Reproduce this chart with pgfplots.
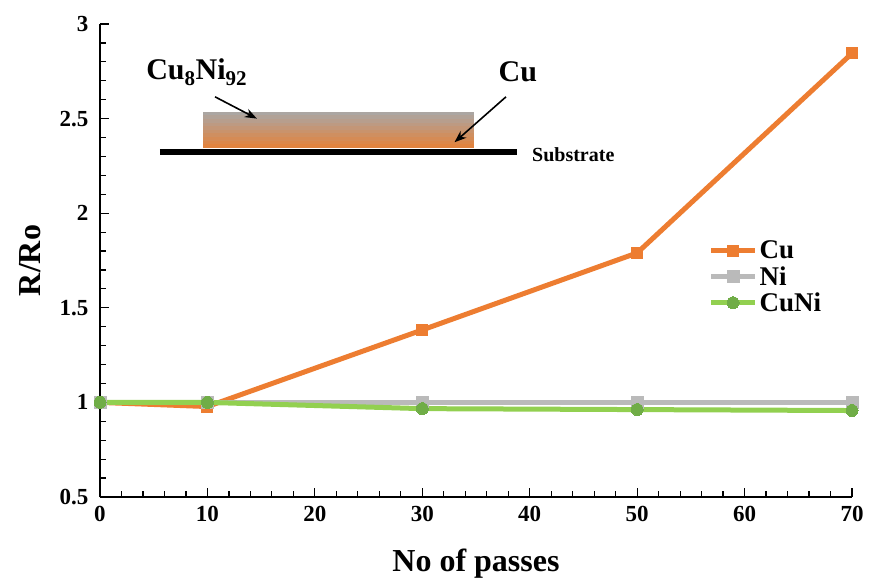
\documentclass[border=0pt]{standalone}
\usepackage{pgfplots}
\pgfplotsset{compat=1.18}
\usepackage{fontspec}
\setmainfont{Liberation Serif}
\usetikzlibrary{arrows.meta}
\definecolor{cuor}{HTML}{ED7D31}
\definecolor{nigr}{HTML}{BABABA}
\definecolor{cnline}{HTML}{92D050}
\definecolor{cnmark}{HTML}{70AD47}
\definecolor{topgray}{HTML}{A8A8A8}
\definecolor{botor}{HTML}{E4813A}
\begin{document}
\begin{tikzpicture}
\begin{axis}[
  at={(0,0)}, anchor=south west,
  width=752pt, height=473pt, scale only axis,
  xmin=0, xmax=70, ymin=0.5, ymax=3,
  axis x line*=bottom, axis y line*=left,
  axis line style={-, line width=1.3pt, black},
  xtick={0,10,...,70}, ytick={0.5,1,...,3},
  minor x tick num=4, minor y tick num=4,
  xtick align=inside, ytick align=inside,
  major tick length=9pt, minor tick length=6pt,
  xtick style={color=black, line width=1.2pt},
  ytick style={color=black, line width=1.2pt},
  /pgf/number format/assume math mode=true,
  ticklabel style={font=\bfseries\fontsize{23}{23}\selectfont},
  xticklabel style={yshift=-6pt},
  yticklabel style={xshift=-8pt},
  xlabel={No of passes}, ylabel={R/Ro},
  label style={font=\bfseries\fontsize{32}{32}\selectfont},
  xlabel style={yshift=-20pt},
  ylabel style={yshift=12pt},
  legend style={at={(0.805,0.55)}, anchor=north west, draw=none, fill=none,
    font=\bfseries\fontsize{27}{27}\selectfont, row sep=2pt,
    /tikz/every even column/.append style={column sep=2pt}},
  legend cell align=left,
  legend image code/.code={\draw[mark repeat=2,mark phase=2,#1] plot coordinates {(0pt,0pt)(22pt,0pt)(44pt,0pt)};},
  clip=false,
]
\addplot[cuor, line width=5pt, mark=square*, mark size=5.5pt, mark options={line width=0pt}]
  coordinates {(0,1.0) (10,0.978) (30,1.383) (50,1.79) (70,2.845)};
\addlegendentry{Cu}
\addplot[nigr, line width=5pt, mark=square*, mark size=6pt, mark options={line width=0pt}]
  coordinates {(0,1.0) (10,1.0) (30,1.0) (50,1.0) (70,1.0)};
\addlegendentry{Ni}
\addplot[cnline, line width=5pt, mark=*, mark size=6pt, mark options={fill=cnmark, draw=cnmark, line width=0pt}]
  coordinates {(0,1.0) (10,1.0) (30,0.967) (50,0.962) (70,0.957)};
\addlegendentry{CuNi}
% inset schematic: graded layer drawn as thin strips
\fill[botor!5!topgray]  (axis cs:9.59,2.536) rectangle (axis cs:34.81,2.516);
\fill[botor!15!topgray] (axis cs:9.59,2.517) rectangle (axis cs:34.81,2.497);
\fill[botor!25!topgray] (axis cs:9.59,2.498) rectangle (axis cs:34.81,2.478);
\fill[botor!35!topgray] (axis cs:9.59,2.479) rectangle (axis cs:34.81,2.459);
\fill[botor!45!topgray] (axis cs:9.59,2.460) rectangle (axis cs:34.81,2.440);
\fill[botor!55!topgray] (axis cs:9.59,2.441) rectangle (axis cs:34.81,2.421);
\fill[botor!65!topgray] (axis cs:9.59,2.422) rectangle (axis cs:34.81,2.402);
\fill[botor!75!topgray] (axis cs:9.59,2.403) rectangle (axis cs:34.81,2.383);
\fill[botor!85!topgray] (axis cs:9.59,2.384) rectangle (axis cs:34.81,2.364);
\fill[botor!95!topgray] (axis cs:9.59,2.365) rectangle (axis cs:34.81,2.345);
\draw[line width=6pt] (axis cs:5.585,2.324) -- (axis cs:38.82,2.324);
\node[font=\bfseries\fontsize{30}{30}\selectfont] at (axis cs:9.0,2.745) {Cu\textsubscript{8}Ni\textsubscript{92}};
\node[font=\bfseries\fontsize{30}{30}\selectfont] at (axis cs:38.9,2.745) {Cu};
\node[font=\bfseries\fontsize{20}{20}\selectfont, anchor=west] at (axis cs:39.9,2.31) {Substrate};
\draw[line width=1.6pt, -{Stealth[length=12pt,width=9pt]}] (axis cs:10.71,2.615) -- (axis cs:14.6,2.5);
\draw[line width=1.6pt, -{Stealth[length=12pt,width=9pt]}] (axis cs:37.79,2.615) -- (axis cs:33.0,2.375);
\end{axis}
\path (-100pt,-84pt) rectangle (774pt,497pt);
\end{tikzpicture}
\end{document}
